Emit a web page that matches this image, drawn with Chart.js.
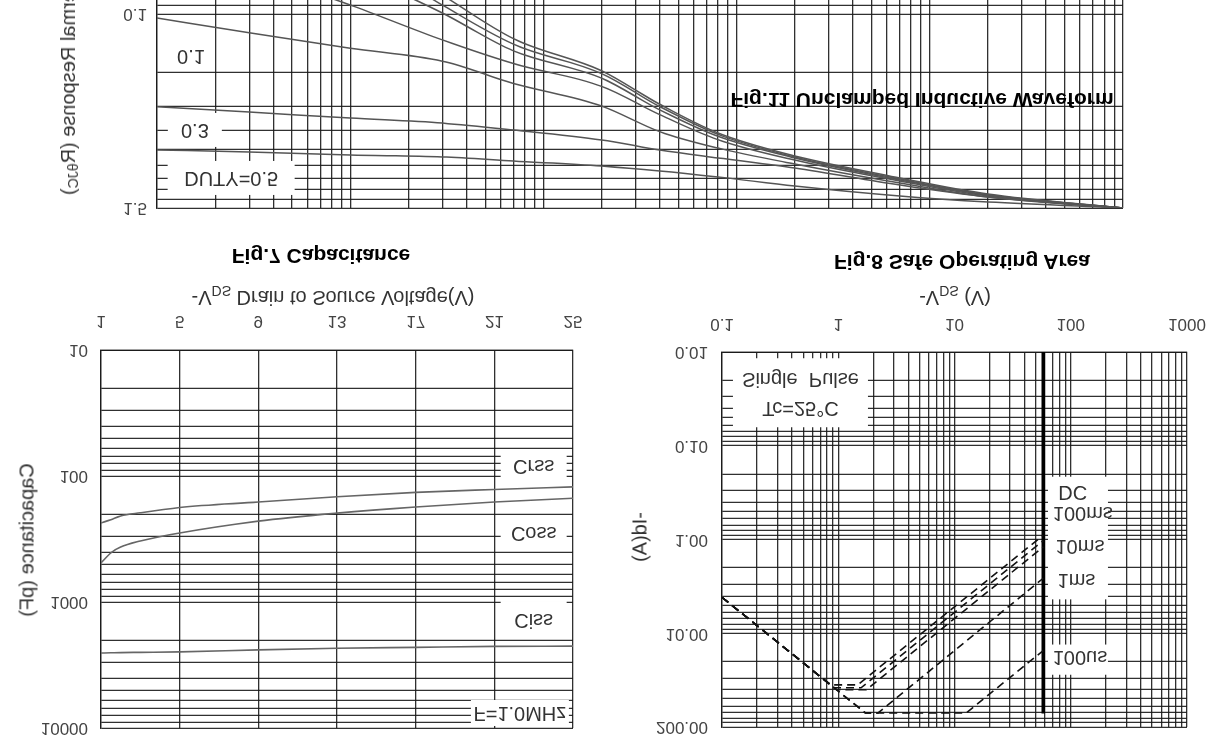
<!DOCTYPE html>
<html>
<head>
<meta charset="utf-8">
<script src="https://cdn.jsdelivr.net/npm/chart.js@4.4.1/dist/chart.umd.min.js"></script>
<style>
  html, body { margin: 0; padding: 0; background: #fff; }
  /* the scanned sheet is upside down: draw it normally, then flip the page */
  #page { position: relative; width: 1219px; height: 743px; overflow: hidden; transform: scaleY(-1);
          font-family: "Liberation Sans", Arial, sans-serif; color: #333; background: #fff; }
  canvas { position: absolute; }
  .t { position: absolute; white-space: nowrap; font-size: 20px; transform: translate(-50%, -50%); }
  .b { font-weight: bold; color: #000; font-size: 21px; }
  .v { writing-mode: vertical-rl; transform: translate(-50%, -50%) rotate(180deg); }
  sub { font-size: 70%; }
</style>
</head>
<body>
<div id="page">
  <canvas id="capChart" width="620" height="445" style="left:0;top:-15px"></canvas>
  <canvas id="soaChart" width="650" height="444" style="left:610px;top:-14px"></canvas>
  <canvas id="thermChart" width="1219" height="460" style="left:0;top:500px"></canvas>

  <div class="t b" style="left:321px;top:487px">Fig.7 Capacitance</div>
  <div class="t" style="left:333px;top:447px">-V<sub>DS</sub> Drain to Source Voltage(V)</div>
  <div class="t v" style="left:27px;top:203px">Capacitance (pF)</div>

  <div class="t b" style="left:962px;top:481px">Fig.8 Safe Operating Area</div>
  <div class="t" style="left:955px;top:447px">-V<sub>DS</sub> (V)</div>
  <div class="t v" style="left:640px;top:206px">-Id(A)</div>

  <div class="t v" style="left:69px;top:548px;transform:translateX(-50%) rotate(180deg)">Normalized Transient Thermal Response (R<sub>θJC</sub>)</div>
  <div class="t b" style="left:922px;top:643px">Fig.11 Unclamped Inductive Waveform</div>
</div>

<script>
// Fig.7 Capacitance
const capTicksX = [1, 5, 9, 13, 17, 21, 25];
const capTicksY = [10, 100, 1000, 10000];
const capTickLabelsY = ['10', '100', '1000', '10000'];
const capVds = [1, 1.5, 2, 3, 5, 9, 13, 17, 21, 25];
const ciss = [2540, 2530, 2520, 2510, 2490, 2400, 2330, 2290, 2250, 2240];
const coss = [490, 408, 366, 328, 283, 228, 197, 176, 161, 150];
const crss = [236, 222, 208, 196, 178, 161, 146, 135, 128, 122];

// Fig.8 Safe Operating Area
const soaTicksX = [0.1, 1, 10, 100, 1000];
const soaTickLabelsX = ['0.1', '1', '10', '100', '1000'];
const soaTicksY = [0.01, 0.1, 1, 10, 100];
const soaTickLabelsY = ['0.01', '0.10', '1.00', '10.00', '200.00'];
const dcV = [0.1, 0.86, 1.47, 58];
const dcI = [4.14, 35.5, 35.5, 0.90];
const ms100V = [0.1, 0.92, 1.57, 58];
const ms100I = [4.14, 38.2, 38.2, 1.03];
const ms10V = [0.1, 0.97, 1.74, 58];
const ms10I = [4.14, 40.1, 40.1, 1.20];
const ms1V = [0.1, 1.71, 2.2, 58];
const ms1I = [4.14, 70.8, 70.8, 2.59];
const us100V = [0.1, 1.71, 12.6, 58];
const us100I = [4.14, 70.8, 70.8, 15.3];
const bvdsV = [58, 58];
const bvdsI = [0.01, 72];

// Thermal response
const thermTicksX = [1e-4, 1e-3, 0.01, 0.1, 1, 10];
const thermTickLabelsX = ['0.0001', '0.001', '0.01', '0.1', '1', '10'];
const thermTicksY = [0.01, 0.1, 1];
const thermTickLabelsY = ['0.01', '0.1', '1.5'];
const pulseWidth = [1e-4, 3e-4, 1e-3, 3e-3, 7e-3, 0.02, 0.04, 0.08, 0.2, 0.7, 2, 10];
const duty05 = [0.502, 0.514, 0.533, 0.546, 0.573, 0.608, 0.644, 0.692, 0.770, 0.867, 0.931, 1.0];
const duty03 = [0.301, 0.320, 0.344, 0.365, 0.396, 0.446, 0.502, 0.552, 0.622, 0.761, 0.877, 1.0];
const duty01 = [0.105, 0.125, 0.150, 0.175, 0.228, 0.298, 0.404, 0.491, 0.593, 0.743, 0.877, 1.0];
const duty005 = [0.0415, 0.0593, 0.0899, 0.136, 0.180, 0.236, 0.330, 0.444, 0.566, 0.726, 0.867, 1.0];
const duty002 = [0.023, 0.0348, 0.0593, 0.0988, 0.155, 0.214, 0.312, 0.427, 0.552, 0.717, 0.857, 1.0];
const duty001 = [0.0161, 0.0258, 0.0457, 0.0899, 0.143, 0.203, 0.300, 0.417, 0.546, 0.709, 0.857, 1.0];
const singlePulse = [0.0143, 0.023, 0.0415, 0.080, 0.134, 0.196, 0.292, 0.410, 0.539, 0.700, 0.847, 1.0];

const FONT = "'Liberation Sans', Arial, sans-serif";
const GRID = 'rgba(25, 25, 25, 0.9)';

// 1..9 per decade, the printed log paper
function logGrid(min, max) {
    const out = [];
    for (let d = min; d < max * 0.999; d = Number((d * 10).toPrecision(2))) {
        for (let m = 1; m < 10; m++) out.push(Number((m * d).toPrecision(2)));
    }
    out.push(max);
    return out;
}

function labelFor(values, labels) {
    return v => {
        const i = values.findIndex(x => Math.abs(x - v) / x < 1e-6);
        return i < 0 ? '' : labels[i];
    };
}

function axis(type, min, max, gridValues, labelValues, labels, fit) {
    return {
        type: type, min: min, max: max, bounds: 'data',
        afterBuildTicks: s => { s.ticks = gridValues.map(v => ({ value: v })); },
        afterFit: s => {
            if (fit.w != null) s.width = fit.w;
            if (fit.h != null) s.height = fit.h;
        },
        ticks: {
            autoSkip: false, maxRotation: 0, padding: fit.pad, color: '#444',
            font: { family: FONT, size: 17 },
            callback: labelFor(labelValues, labels)
        },
        grid: { color: GRID, lineWidth: 1.3, drawTicks: false },
        border: { color: GRID, width: 1.3 }
    };
}

const boxLabels = {
    id: 'boxLabels',
    beforeDatasetsDraw(chart, args, opts) {
        const ctx = chart.ctx, xs = chart.scales.x, ys = chart.scales.y;
        ctx.save();
        ctx.fillStyle = '#fff';
        (opts.rects || []).forEach(r => {
            const x0 = xs.getPixelForValue(r.x0), x1 = xs.getPixelForValue(r.x1);
            const y0 = ys.getPixelForValue(r.y0), y1 = ys.getPixelForValue(r.y1);
            ctx.fillRect(Math.min(x0, x1), Math.min(y0, y1), Math.abs(x1 - x0), Math.abs(y1 - y0));
        });
        ctx.font = '20px ' + FONT;
        ctx.textAlign = 'center';
        ctx.textBaseline = 'middle';
        (opts.items || []).forEach(it => {
            const cx = xs.getPixelForValue(it.x), cy = ys.getPixelForValue(it.y);
            if (it.w) {
                ctx.fillStyle = '#fff';
                ctx.fillRect(cx - it.w / 2, cy - it.h / 2, it.w, it.h);
            }
            ctx.fillStyle = '#333';
            const lines = [].concat(it.text);
            lines.forEach((s, k) => ctx.fillText(s, cx, cy + (k - (lines.length - 1) / 2) * 29));
        });
        ctx.restore();
    }
};

function pts(xs, ys) {
    return xs.map((x, i) => ({ x: x, y: ys[i] }));
}

function curve(xs, ys, color, width, dash) {
    return {
        data: pts(xs, ys), borderColor: color, borderWidth: width, borderDash: dash || [],
        pointRadius: 0, fill: false, cubicInterpolationMode: dash ? 'default' : 'monotone'
    };
}

function baseOptions(padTop, padRight, scales, labels) {
    return {
        responsive: false, animation: false,
        layout: { padding: { top: padTop, right: padRight, left: 0, bottom: 0 } },
        plugins: { legend: { display: false }, tooltip: { enabled: false }, boxLabels: labels },
        scales: scales
    };
}

new Chart(document.getElementById('capChart'), {
    type: 'line',
    data: {
        datasets: [
            curve(capVds, ciss, '#666', 1.6),
            curve(capVds, coss, '#666', 1.6),
            curve(capVds, crss, '#666', 1.6)
        ]
    },
    options: baseOptions(30, 47, {
        x: axis('linear', 1, 25, capTicksX, capTicksX, capTicksX.map(String), { h: 37, pad: 19 }),
        y: axis('logarithmic', 10, 10000, logGrid(10, 10000), capTicksY, capTickLabelsY, { w: 101, pad: 13 })
    }, {
        items: [
            { text: 'Ciss', x: 23.0, y: 1365, w: 66, h: 36 },
            { text: 'Coss', x: 23.0, y: 283, w: 66, h: 26 },
            { text: 'Crss', x: 23.0, y: 82, w: 66, h: 28 },
            { text: 'F=1.0MHz', x: 22.3, y: 7600, w: 98, h: 26 }
        ]
    }),
    plugins: [boxLabels]
});

new Chart(document.getElementById('soaChart'), {
    type: 'line',
    data: {
        datasets: [
            curve(dcV, dcI, '#111', 1.6, [8, 5]),
            curve(ms100V, ms100I, '#111', 1.6, [8, 5]),
            curve(ms10V, ms10I, '#111', 1.6, [8, 5]),
            curve(ms1V, ms1I, '#111', 1.6, [8, 5]),
            curve(us100V, us100I, '#111', 1.6, [8, 5]),
            curve(bvdsV, bvdsI, '#000', 3.5)
        ]
    },
    options: baseOptions(30, 73, {
        x: axis('logarithmic', 0.1, 1000, logGrid(0.1, 1000), soaTicksX, soaTickLabelsX, { h: 39, pad: 18 }),
        y: axis('logarithmic', 0.01, 100, logGrid(0.01, 100), soaTicksY, soaTickLabelsY, { w: 112, pad: 14 })
    }, {
        rects: [
            { x0: 63.7, x1: 209, y0: 0.214, y1: 4.35 },
            { x0: 63.7, x1: 209, y0: 13.2, y1: 27.7 }
        ],
        items: [
            { text: ['Tc=25°C', 'Single  Pulse'], x: 0.473, y: 0.0272, w: 135, h: 69 },
            { text: 'DC', x: 104, y: 0.31 },
            { text: '100ms', x: 127, y: 0.52 },
            { text: '10ms', x: 120, y: 1.15 },
            { text: '1ms', x: 112, y: 2.65 },
            { text: '100us', x: 120, y: 17.7 }
        ]
    }),
    plugins: [boxLabels]
});

new Chart(document.getElementById('thermChart'), {
    type: 'line',
    data: {
        datasets: [
            curve(pulseWidth, duty05, '#555', 1.5),
            curve(pulseWidth, duty03, '#555', 1.5),
            curve(pulseWidth, duty01, '#555', 1.5),
            curve(pulseWidth, duty005, '#555', 1.5),
            curve(pulseWidth, duty002, '#555', 1.5),
            curve(pulseWidth, duty001, '#555', 1.5),
            curve(pulseWidth, singlePulse, '#555', 1.5)
        ]
    },
    options: baseOptions(35, 96, {
        x: axis('logarithmic', 1e-4, 10, logGrid(1e-4, 10), thermTicksX, thermTickLabelsX, { h: 37, pad: 18 }),
        y: axis('logarithmic', 0.01, 1, logGrid(0.01, 1), thermTicksY, thermTickLabelsY, { w: 157, pad: 10 })
    }, {
        items: [
            { text: 'DUTY=0.5', x: 2.42e-4, y: 0.70, w: 127, h: 34 },
            { text: '0.3', x: 1.57e-4, y: 0.396, w: 54, h: 34 },
            { text: '0.1', x: 1.5e-4, y: 0.163, w: 44, h: 30 }
        ]
    }),
    plugins: [boxLabels]
});
</script>
</body>
</html>
